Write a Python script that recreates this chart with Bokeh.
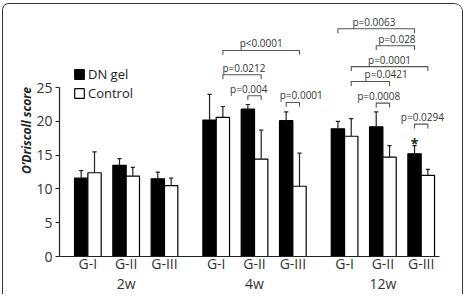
from bokeh.plotting import figure
from bokeh.models import (ColumnDataSource, FixedTicker, LinearAxis, Legend, LegendItem, Range1d)
from bokeh.core.properties import value
from bokeh.embed import file_html
from bokeh.resources import INLINE

# --- data -----------------------------------------------------------------
weeks = ["2w", "4w", "12w"]
groups = ["G-I", "G-II", "G-III"]

dn_mean = [11.6, 13.5, 11.5, 20.2, 21.8, 20.1, 18.9, 19.2, 15.2]
dn_sd = [1.1, 1.0, 1.0, 3.8, 0.7, 1.3, 1.1, 2.2, 1.2]
ctrl_mean = [12.4, 11.9, 10.5, 20.6, 14.4, 10.4, 17.8, 14.7, 12.0]
ctrl_sd = [3.1, 1.3, 1.1, 1.6, 4.3, 4.9, 2.6, 1.7, 0.9]

# significance brackets: (slot, series) at each end
p_labels = ["p<0.0001", "p=0.0212", "p=0.004", "p=0.0001", "p=0.0063",
            "p=0.028", "p=0.0001", "p=0.0421", "p=0.0008", "p=0.0294"]
p_from = [(3, "ctrl"), (3, "ctrl"), (4, "dn"), (5, "dn"), (6, "dn"),
          (7, "dn"), (6, "ctrl"), (6, "ctrl"), (7, "dn"), (8, "dn")]
p_to = [(5, "ctrl"), (4, "ctrl"), (4, "ctrl"), (5, "ctrl"), (8, "dn"),
        (8, "dn"), (8, "ctrl"), (7, "ctrl"), (7, "ctrl"), (8, "ctrl")]

# --- layout helpers -------------------------------------------------------
week_gap = 0.35
bar_w = 0.348
centers = [w * (len(groups) + week_gap) + g for w in range(len(weeks)) for g in range(len(groups))]
side = {"dn": -bar_w / 2, "ctrl": bar_w / 2}
x_dn = [c + side["dn"] for c in centers]
x_ctrl = [c + side["ctrl"] for c in centers]

bracket_level = [30.5, 26.9, 23.8, 22.8, 33.7, 31.2, 28.1, 25.9, 22.7, 19.6]
label_nudge = [0.0, 0.05, -0.15, 0.22, -0.06, 0.04, 0.0, 0.41, -0.11, 0.03]
leg = 0.65
label_gap = 1.05

FONT = "Open Sans"
INK = "#222222"

X_LO, X_AXIS_END = -0.74, 9.18

p = figure(width=461, height=291, output_backend="svg", toolbar_location=None,
           x_range=Range1d(X_LO, 9.83), y_range=Range1d(0, 37.3),
           min_border_left=56, min_border_right=0, min_border_top=0, min_border_bottom=39,
           x_axis_type=None, y_axis_type=None)
p.grid.visible = False
p.outline_line_color = None
p.background_fill_color = "white"
p.border_fill_color = "white"
# rounded panel frame around the figure
p.styles = {"border-left": "1.5px solid #333", "border-top": "1.5px solid #333",
            "border-right": "1.5px solid #333", "border-top-left-radius": "7px",
            "border-top-right-radius": "9px", "margin": "3px 0 0 2px", "overflow": "hidden"}

# bars
src_dn = ColumnDataSource(dict(x=x_dn, top=dn_mean, err=[m + s for m, s in zip(dn_mean, dn_sd)]))
src_ct = ColumnDataSource(dict(x=x_ctrl, top=ctrl_mean, err=[m + s for m, s in zip(ctrl_mean, ctrl_sd)]))

r_dn = p.vbar(x="x", top="top", width=bar_w, bottom=0, source=src_dn,
              fill_color="black", line_color="black", line_width=1.2)
r_ct = p.vbar(x="x", top="top", width=bar_w, bottom=0, source=src_ct,
              fill_color="white", line_color="black", line_width=1.2)

# error whiskers (upper only) with caps
cap = 0.055
for src in (src_dn, src_ct):
    p.segment(x0="x", y0="top", x1="x", y1="err", source=src, line_color=INK, line_width=1.2)
    d = src.data
    p.segment(x0=[x - cap for x in d["x"]], y0=d["err"], x1=[x + cap for x in d["x"]], y1=d["err"],
              line_color=INK, line_width=1.2)

# significance brackets
xs, ys, tx, ty = [], [], [], []
for (ga, sa), (gb, sb), lvl, nudge in zip(p_from, p_to, bracket_level, label_nudge):
    xa = centers[ga] + side[sa]
    xb = centers[gb] + side[sb]
    xs.append([xa, xa, xb, xb])
    ys.append([lvl - leg, lvl, lvl, lvl - leg])
    tx.append((xa + xb) / 2 + nudge)
    ty.append(lvl + label_gap)
p.multi_line(xs=xs, ys=ys, line_color="#555555", line_width=1.1)
p.text(x=tx, y=ty, text=p_labels, text_font=value(FONT), text_font_size="10px",
       text_color="#333333", text_align="center", text_baseline="middle")

# asterisk over the 12w G-III DN gel bar
p.text(x=[x_dn[8]], y=[src_dn.data["err"][8] + 0.3], text=["*"], text_font=value(FONT),
       text_font_size="14px", text_font_style="bold", text_color=INK,
       text_align="center", text_baseline="middle")

# axes
yax = LinearAxis(ticker=FixedTicker(ticks=[0, 5, 10, 15, 20, 25]), bounds=(0, 25),
                 axis_label="O\u2019Driscoll score")
yax.axis_label_text_font = FONT
yax.axis_label_text_font_style = "bold italic"
yax.axis_label_text_font_size = "12px"
yax.axis_label_text_color = INK
yax.axis_label_standoff = -2
yax.major_label_text_font = FONT
yax.major_label_text_font_size = "14px"
yax.major_label_text_color = "#333333"
yax.major_label_standoff = 3
yax.major_tick_in = 0
yax.major_tick_out = 4
yax.minor_tick_line_color = None
yax.axis_line_color = INK
yax.major_tick_line_color = INK
yax.axis_line_width = 1.2
p.add_layout(yax, "left")

gax = LinearAxis(ticker=FixedTicker(ticks=centers), bounds=(X_LO, X_AXIS_END),
                 major_label_overrides={c: groups[i % 3] for i, c in enumerate(centers)})
gax.major_label_text_font = FONT
gax.major_label_text_font_size = "14px"
gax.major_label_text_color = "#333333"
gax.major_label_standoff = -3
gax.major_tick_in = 0
gax.major_tick_out = 0
gax.major_tick_line_color = None
gax.minor_tick_line_color = None
gax.axis_line_color = INK
gax.axis_line_width = 1.2
p.add_layout(gax, "below")

week_centers = [centers[3 * w + 1] for w in range(len(weeks))]
wax = LinearAxis(ticker=FixedTicker(ticks=week_centers),
                 major_label_overrides={c: weeks[i] for i, c in enumerate(week_centers)})
wax.major_label_text_font = FONT
wax.major_label_text_font_size = "14px"
wax.major_label_text_color = "#333333"
wax.major_label_standoff = -2
wax.major_tick_in = 0
wax.major_tick_out = 0
wax.major_tick_line_color = None
wax.minor_tick_line_color = None
wax.axis_line_color = None
p.add_layout(wax, "below")

# legend
legend = Legend(items=[LegendItem(label="DN gel", renderers=[r_dn]),
                       LegendItem(label="Control", renderers=[r_ct])],
                location=(14, 154), orientation="vertical",
                glyph_width=12, glyph_height=12, label_height=12, label_standoff=3,
                spacing=1, padding=0, margin=0,
                border_line_color=None, background_fill_color=None,
                label_text_font=FONT, label_text_font_size="13px", label_text_color=INK)
p.add_layout(legend)

open("out.html", "w").write(file_html(p, INLINE))
